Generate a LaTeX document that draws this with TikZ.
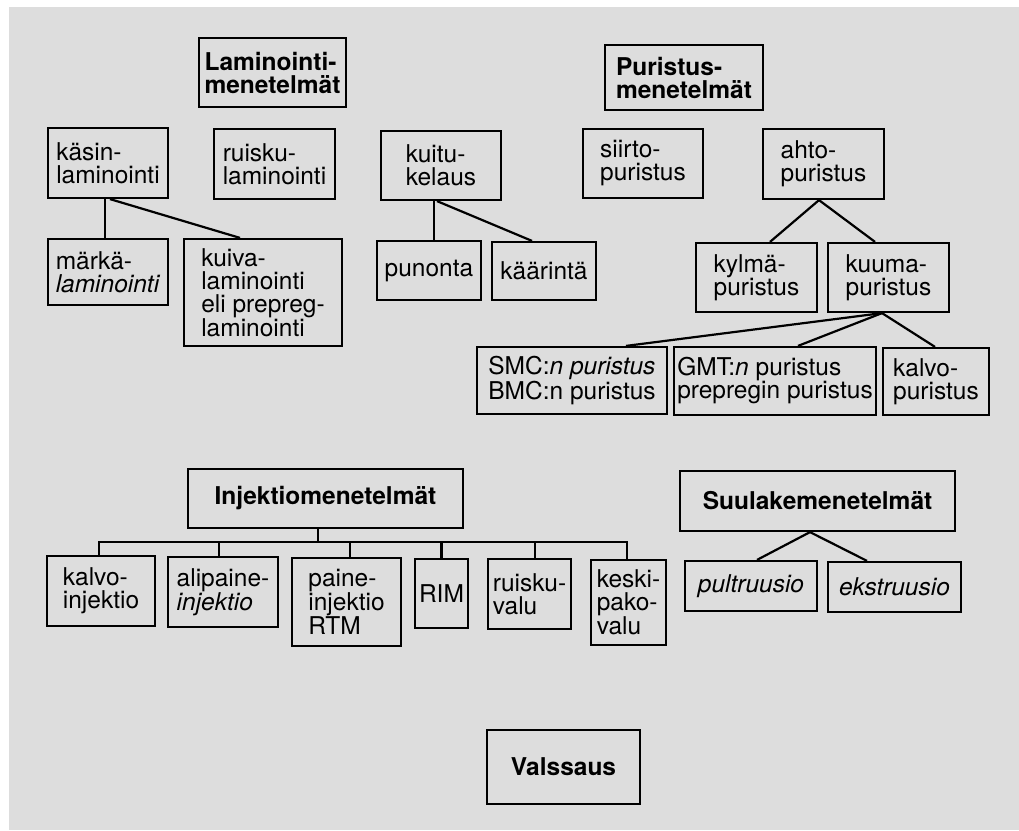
\documentclass[tikz,border=0pt]{standalone}
\usepackage{fontspec}
\setmainfont{TeX Gyre Heros}
\definecolor{bg}{RGB}{221,221,221}
\tikzset{
  box/.style={draw=black, line width=2.2pt, align=left, inner sep=0pt,
    font=\fontsize{24.5}{23}\selectfont},
  hbox/.style={box, font=\fontsize{24.5}{23}\selectfont\bfseries},
  link/.style={line width=2.2pt},
}
\begin{document}
\begin{tikzpicture}[x=1pt,y=-1pt]
\useasboundingbox (0,0) rectangle (1019,830);
\fill[bg] (9,7) rectangle (1019,830);

% Laminointi
\node[hbox, minimum width=147pt, minimum height=69pt] (lam) at (272.5,72.5) {Laminointi-\\menetelmät};
\node[box, minimum width=120pt, minimum height=70pt] (kasin) at (108,163) {käsin-\\laminointi};
\node[box, minimum width=121pt, minimum height=70pt] (ruisku) at (274.5,164) {ruisku-\\laminointi};
\node[box, minimum width=120pt, minimum height=69pt] (kuitu) at (441,165.5) {kuitu-\\kelaus};
\node[box, minimum width=120pt, minimum height=66pt] (marka) at (108,272) {märkä-\\\textit{laminointi}};
\node[box, minimum width=158pt, minimum height=107pt] (kuiva) at (263,292.5) {kuiva-\\laminointi\\eli prepreg-\\laminointi};
\node[box, minimum width=104pt, minimum height=59pt] (punonta) at (429,270.5) {punonta};
\node[box, minimum width=104pt, minimum height=58pt] (kaarinta) at (544,271) {käärintä};

% Puristus
\node[hbox, minimum width=158pt, minimum height=65pt] (pur) at (684,77.5) {Puristus-\\menetelmät};
\node[box, minimum width=120pt, minimum height=69pt] (siirto) at (643,163.5) {siirto-\\puristus};
\node[box, minimum width=121pt, minimum height=70pt] (ahto) at (823.5,164) {ahto-\\puristus};
\node[box, minimum width=121pt, minimum height=69pt] (kylma) at (756.5,277.5) {kylmä-\\puristus};
\node[box, minimum width=121pt, minimum height=69pt] (kuuma) at (888.5,277.5) {kuuma-\\puristus};
\node[box, minimum width=190pt, minimum height=67pt] (smc) at (572,380.5) {SMC:\textit{n puristus}\\BMC:n puristus};
\node[box, minimum width=202pt, minimum height=68pt] (gmt) at (775,381) {GMT:\textit{n} puristus\\prepregin puristus};
\node[box, minimum width=106pt, minimum height=67pt] (kalvop) at (936,381.5) {kalvo-\\puristus};

% Injektio
\node[hbox, minimum width=275pt, minimum height=59pt] (inj) at (325.5,498.5) {Injektiomenetelmät};
\node[box, minimum width=108pt, minimum height=70pt] (kalvoi) at (101,591) {kalvo-\\injektio};
\node[box, minimum width=110pt, minimum height=70pt] (alip) at (223,592) {alipaine-\\\textit{injektio}};
\node[box, minimum width=109pt, minimum height=88pt] (paine) at (346.5,602) {paine-\\injektio\\RTM};
\node[box, minimum width=53pt, minimum height=69pt] (rim) at (441.5,593.5) {RIM};
\node[box, minimum width=83pt, minimum height=70pt] (ruiskuv) at (529.5,594) {ruisku-\\valu};
\node[box, minimum width=75pt, minimum height=85pt] (keski) at (628.5,602.5) {keski-\\pako-\\valu};

% Suulake
\node[hbox, minimum width=275pt, minimum height=60pt] (suul) at (817.5,501) {Suulakemenetelmät};
\node[box, minimum width=132pt, minimum height=50pt] (pult) at (751,586) {\textit{pultruusio}};
\node[box, minimum width=133pt, minimum height=50pt] (ekst) at (894.5,587) {\textit{ekstruusio}};

% Valssaus
\node[hbox, minimum width=153pt, minimum height=74pt] (vals) at (563.5,767) {Valssaus};

% connectors
\draw[link] ([xshift=-3pt]kasin.south) -- ([xshift=-3pt]kasin.south |- marka.north);
\draw[link] ([xshift=2pt]kasin.south) -- ([xshift=-23pt]kuiva.north);
\draw[link] ([xshift=-7pt]kuitu.south) -- ([xshift=-7pt]kuitu.south |- punonta.north);
\draw[link] ([xshift=-4pt]kuitu.south) -- ([xshift=-12pt]kaarinta.north);

\draw[link] ([xshift=-4.5pt]ahto.south) -- ([xshift=13.5pt]kylma.north);
\draw[link] ([xshift=-4.5pt]ahto.south) -- ([xshift=-13.5pt]kuuma.north);
\draw[link] ([xshift=-6.5pt]kuuma.south) -- ([xshift=54pt]smc.north);
\draw[link] ([xshift=-6.5pt]kuuma.south) -- ([xshift=23pt]gmt.north);
\draw[link] ([xshift=-6.5pt]kuuma.south) -- ([xshift=-1pt]kalvop.north);

\coordinate (bus) at (0,542);
\draw[link] ([xshift=-7.5pt]inj.south) -- ([xshift=-7.5pt]inj.south |- bus);
\draw[link] ([xshift=-2pt]kalvoi.north) -- ([xshift=-2pt]kalvoi.north |- bus)
  -- ([xshift=-1.5pt]keski.north |- bus) -- ([xshift=-1.5pt]keski.north);
\draw[link] ([xshift=-4pt]alip.north) -- ([xshift=-4pt]alip.north |- bus);
\draw[link] ([xshift=3.5pt]paine.north) -- ([xshift=3.5pt]paine.north |- bus);
\draw[link] (rim.north) -- (rim.north |- bus);
\draw[link] ([xshift=5.5pt]ruiskuv.north) -- ([xshift=5.5pt]ruiskuv.north |- bus);

\draw[link] ([xshift=-7.5pt]suul.south) -- ([xshift=6pt]pult.north);
\draw[link] ([xshift=-7.5pt]suul.south) -- ([xshift=-27.5pt]ekst.north);
\end{tikzpicture}
\end{document}
